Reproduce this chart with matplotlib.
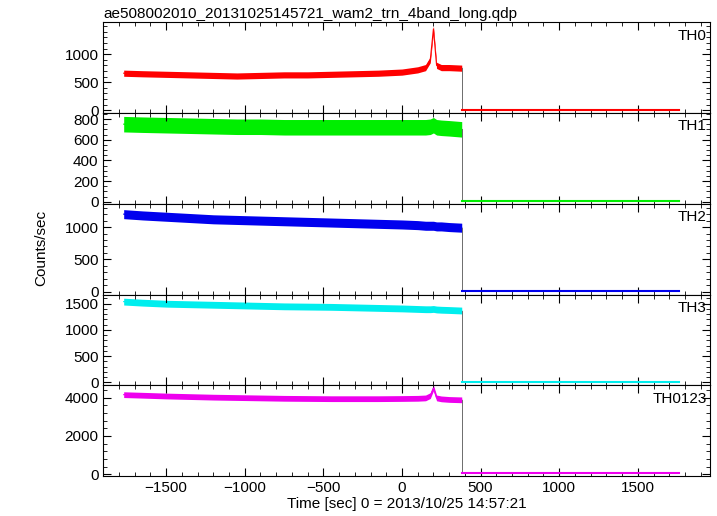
import matplotlib

matplotlib.use("Agg")

import matplotlib.pyplot as plt
from matplotlib.ticker import AutoMinorLocator

plt.rcParams["font.family"] = ["Liberation Sans", "DejaVu Sans"]

title = "ae508002010_20131025145721_wam2_trn_4band_long.qdp"
band_names = ["TH0", "TH1", "TH2", "TH3", "TH0123"]
band_colors = ["#ff0000", "#00ee00", "#0000ee", "#00eeee", "#ee00ee"]

# time nodes (sec) of the bright part
time_on = [-1770, -1650, -1500, -1350, -1200, -1050, -900, -750, -600, -450,
           -300, -150, 0, 100, 150, 180, 200, 220, 250, 300, 380]
# mean counts/sec at each node
th0_mean = [660, 650, 640, 630, 620, 610, 620, 630, 630, 640,
            650, 660, 680, 720, 760, 900, 1450, 800, 760, 760, 750]
th1_mean = [750, 745, 740, 735, 730, 725, 725, 720, 720, 720,
            720, 720, 720, 720, 720, 725, 740, 720, 715, 710, 700]
th2_mean = [1200, 1180, 1160, 1140, 1120, 1110, 1100, 1090, 1080, 1070,
            1060, 1050, 1040, 1030, 1020, 1020, 1020, 1010, 1010, 1000, 990]
th3_mean = [1540, 1520, 1500, 1490, 1480, 1470, 1460, 1450, 1445, 1440,
            1430, 1420, 1410, 1400, 1395, 1395, 1400, 1390, 1385, 1380, 1370]
th0123_mean = [4150, 4120, 4080, 4050, 4020, 4000, 3980, 3960, 3950, 3940,
               3940, 3940, 3950, 3960, 3980, 4100, 4500, 3980, 3930, 3900, 3880]
# half width of the noise band
noise = [55, 75, 70, 65, 150]
# faint part after the drop
time_off = [380, 1760]
off_level = [8, 5, 12, 15, 40]

means = [th0_mean, th1_mean, th2_mean, th3_mean, th0123_mean]
ylims = [(-50, 1570), (-20, 858), (-47, 1360), (-58, 1673), (-105, 4630)]
yticks = [[0, 500, 1000], [0, 200, 400, 600, 800], [0, 500, 1000],
          [0, 500, 1000, 1500], [0, 2000, 4000]]

fig, axes = plt.subplots(5, 1, figsize=(7.17, 5.16), dpi=100, sharex=True)
fig.subplots_adjust(left=0.144, right=0.99, top=0.957, bottom=0.077, hspace=0)

for ax, name, color, mean, nz, off, ylim, ticks in zip(
        axes, band_names, band_colors, means, noise, off_level, ylims, yticks):
    lo = [m - nz for m in mean]
    hi = [m + nz for m in mean]
    ax.fill_between(time_on, lo, hi, color=color, lw=0)
    ax.plot(time_on, mean, color=color, lw=0.8)
    ax.plot([time_on[-1], time_on[-1]], [off, mean[-1]], color="#555555", lw=0.6)
    ax.plot(time_off, [off, off], color=color, lw=1.5)
    ax.set_ylim(*ylim)
    ax.set_yticks(ticks)
    ax.yaxis.set_minor_locator(AutoMinorLocator(5 if ticks[1] - ticks[0] != 200 else 4))
    ax.xaxis.set_minor_locator(AutoMinorLocator(5))
    ax.tick_params(which="both", direction="in", top=True, right=True, labelsize=11)
    ax.tick_params(which="major", length=6)
    ax.tick_params(which="minor", length=3)
    ax.text(0.995, 0.93, name, transform=ax.transAxes, ha="right", va="top", fontsize=11)

axes[-1].set_xlim(-1900, 1958)
axes[-1].set_xticks([-1500, -1000, -500, 0, 500, 1000, 1500])
axes[-1].set_xlabel("Time [sec] 0 = 2013/10/25 14:57:21", fontsize=11, labelpad=1)
axes[0].set_title(title, loc="left", fontsize=11, pad=3)
fig.text(0.057, 0.52, "Counts/sec", rotation=90, va="center", ha="center", fontsize=11)

fig.savefig("out.png", dpi=100)
